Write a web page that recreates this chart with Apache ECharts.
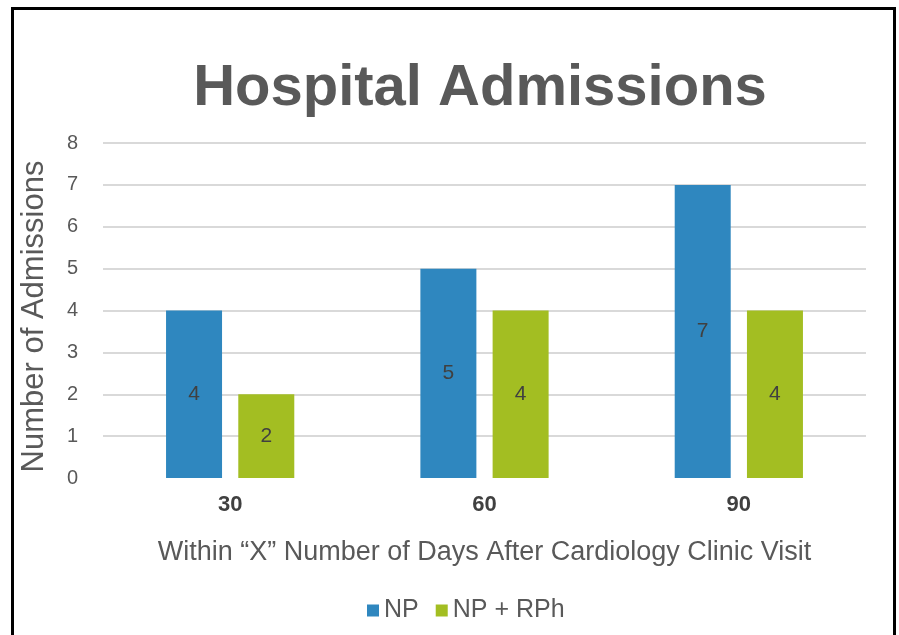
<!DOCTYPE html>
<html>
<head>
<meta charset="utf-8">
<script src="https://cdn.jsdelivr.net/npm/echarts@6/dist/echarts.min.js"></script>
<style>
  html, body { margin: 0; padding: 0; background: #ffffff; }
  #chart { width: 899px; height: 635px; }
</style>
</head>
<body>
<div id="chart"></div>
<script>
// Admissions within X days after the cardiology clinic visit
const dayWindows = ['30', '60', '90'];
const npValues = [4, 5, 7];
const npRphValues = [2, 4, 4];
const seriesNames = ['NP', 'NP + RPh'];
const yTicks = { min: 0, max: 8, interval: 1 };

const textGray = '#595959';
const labelGray = '#404040';
const font = 'Liberation Sans, Arial, sans-serif';

const chart = echarts.init(document.getElementById('chart'), null, { renderer: 'canvas' });

// Gridline colours: first line (value 0) hidden, the rest light gray
const gridColors = [];
for (let v = yTicks.min; v <= yTicks.max; v += yTicks.interval) {
  gridColors.push(v === yTicks.min ? 'rgba(0,0,0,0)' : '#D9D9D9');
}

chart.setOption({
  backgroundColor: '#ffffff',
  animation: false,
  title: {
    text: 'Hospital Admissions',
    left: 475,
    textAlign: 'center',
    top: 55,
    textStyle: { fontFamily: font, fontSize: 58, fontWeight: 'bold', color: textGray }
  },
  legend: {
    data: seriesNames,
    left: 362,
    top: 593,
    itemWidth: 12,
    itemHeight: 12,
    itemGap: 17,
    icon: 'rect',
    textStyle: { fontFamily: font, fontSize: 25, color: textGray }
  },
  grid: { left: 103, right: 33, top: 143, bottom: 157, containLabel: false },
  xAxis: {
    type: 'category',
    data: dayWindows,
    name: 'Within \u201CX\u201D Number of Days After Cardiology Clinic Visit',
    nameLocation: 'middle',
    nameGap: 61,
    nameTextStyle: { fontFamily: font, fontSize: 27, color: textGray },
    axisLine: { show: false },
    axisTick: { show: false },
    axisLabel: { fontFamily: font, fontSize: 22, fontWeight: 'bold', color: labelGray, margin: 16 }
  },
  yAxis: {
    type: 'value',
    min: yTicks.min,
    max: yTicks.max,
    interval: yTicks.interval,
    name: 'Number of Admissions',
    nameLocation: 'middle',
    nameGap: 53,
    nameTextStyle: { fontFamily: font, fontSize: 31, color: textGray, padding: [0, 12, 0, 0] },
    axisLine: { show: false },
    axisTick: { show: false },
    axisLabel: { fontFamily: font, fontSize: 20, color: textGray, margin: 25 },
    splitLine: { show: true, lineStyle: { color: gridColors, width: 2 } }
  },
  series: [
    {
      name: seriesNames[0],
      type: 'bar',
      data: npValues,
      barWidth: 56,
      barGap: '29%',
      itemStyle: { color: '#2F87BF' },
      label: { show: true, position: 'inside', fontFamily: font, fontSize: 21, color: labelGray }
    },
    {
      name: seriesNames[1],
      type: 'bar',
      data: npRphValues,
      barWidth: 56,
      itemStyle: { color: '#A3BE22' },
      label: { show: true, position: 'inside', fontFamily: font, fontSize: 21, color: labelGray }
    }
  ],
  graphic: [
    {
      type: 'rect',
      shape: { x: 12.5, y: 8.5, width: 882, height: 640 },
      style: { fill: 'none', stroke: '#000000', lineWidth: 3 },
      silent: true,
      z: 100
    }
  ]
});
</script>
</body>
</html>
